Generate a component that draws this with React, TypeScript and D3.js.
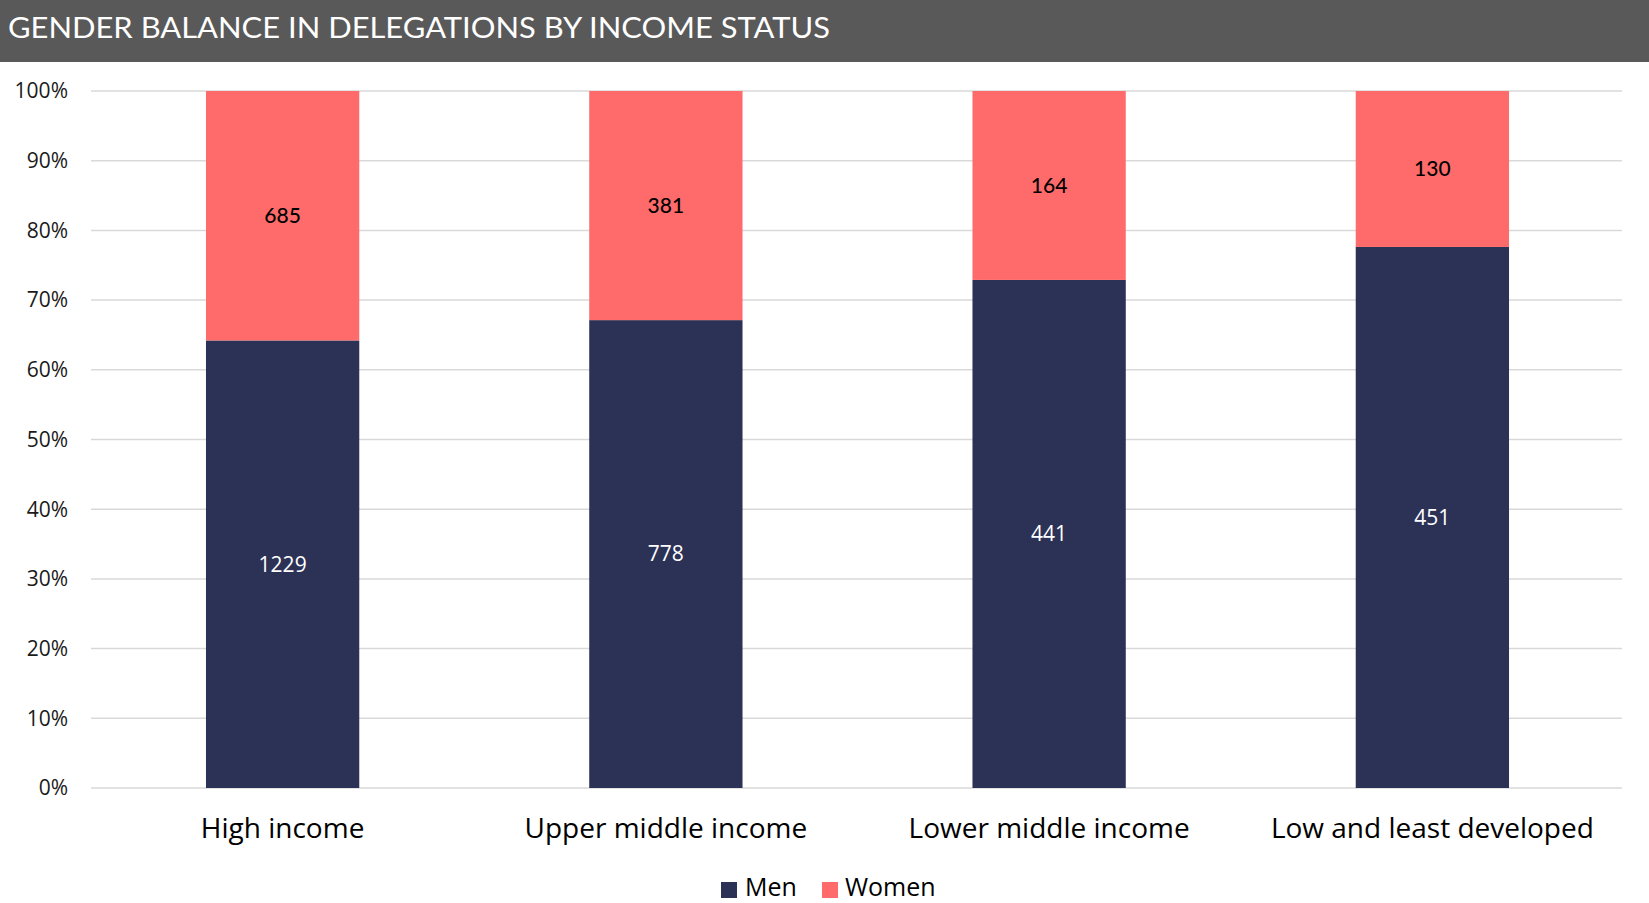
import React from "react";
import * as d3 from "d3";

const categories = ["High income", "Upper middle income", "Lower middle income", "Low and least developed"];
const menValues = [1229, 778, 441, 451];
const womenValues = [685, 381, 164, 130];
const yTicks = [0, 0.1, 0.2, 0.3, 0.4, 0.5, 0.6, 0.7, 0.8, 0.9, 1.0];
const seriesNames = ["Men", "Women"];
const seriesColors = ["#2C3156", "#FF6B6B"];

const W = 1649;
const H = 903;

export default function App() {
  const x = d3.scaleBand<string>().domain(categories).range([91, 1624]).paddingInner(0.6).paddingOuter(0.3);
  const y = d3.scaleLinear().domain([0, 1]).range([788, 91]);
  const fmt = d3.format(".0%");

  const rows = categories.map((c, i) => {
    const total = menValues[i] + womenValues[i];
    return { c, men: menValues[i], women: womenValues[i], pm: menValues[i] / total };
  });

  const bw = x.bandwidth();

  return (
    <svg width={W} height={H} style={{ position: "absolute", left: 0, top: 0, background: "#fff" }}>
      <rect x={0} y={0} width={W} height={62} fill="#595959" />
      <text x={8} y={38} fill="#fff" fontFamily="Lato, 'Open Sans', sans-serif" fontSize={29}
        textLength={822} lengthAdjust="spacingAndGlyphs">
        GENDER BALANCE IN DELEGATIONS BY INCOME STATUS
      </text>

      {yTicks.map((t) => (
        <g key={t}>
          <line x1={91} x2={1622} y1={y(t)} y2={y(t)} stroke="#D9D9D9" strokeWidth={1.5} />
          <text x={68} y={y(t)} dy="0.35em" textAnchor="end" fontFamily="'Open Sans', sans-serif" fontSize={21} fill="#1a1a1a">
            {fmt(t)}
          </text>
        </g>
      ))}

      {rows.map((r) => {
        const x0 = x(r.c)!;
        const cx = x0 + bw / 2;
        return (
          <g key={r.c}>
            <rect x={x0} y={y(r.pm)} width={bw} height={y(0) - y(r.pm)} fill={seriesColors[0]} />
            <rect x={x0} y={y(1)} width={bw} height={y(r.pm) - y(1)} fill={seriesColors[1]} />
            <text x={cx} y={(y(0) + y(r.pm)) / 2} dy="0.35em" textAnchor="middle" fill="#fff"
              fontFamily="'Open Sans', sans-serif" fontSize={21}>
              {r.men}
            </text>
            <text x={cx} y={(y(r.pm) + y(1)) / 2} dy="0.35em" textAnchor="middle" fill="#000"
              fontFamily="Lato, sans-serif" fontSize={21} fontWeight={500}>
              {r.women}
            </text>
            <text x={cx} y={838} textAnchor="middle" fill="#000" fontFamily="'Open Sans', sans-serif" fontSize={28}>
              {r.c}
            </text>
          </g>
        );
      })}

      <g>
        <rect x={721} y={882} width={16} height={16} fill={seriesColors[0]} />
        <text x={745} y={896} fontFamily="'Open Sans', sans-serif" fontSize={25} fill="#000">{seriesNames[0]}</text>
        <rect x={822} y={882} width={16} height={16} fill={seriesColors[1]} />
        <text x={845} y={896} fontFamily="'Open Sans', sans-serif" fontSize={25} fill="#000">{seriesNames[1]}</text>
      </g>
    </svg>
  );
}
